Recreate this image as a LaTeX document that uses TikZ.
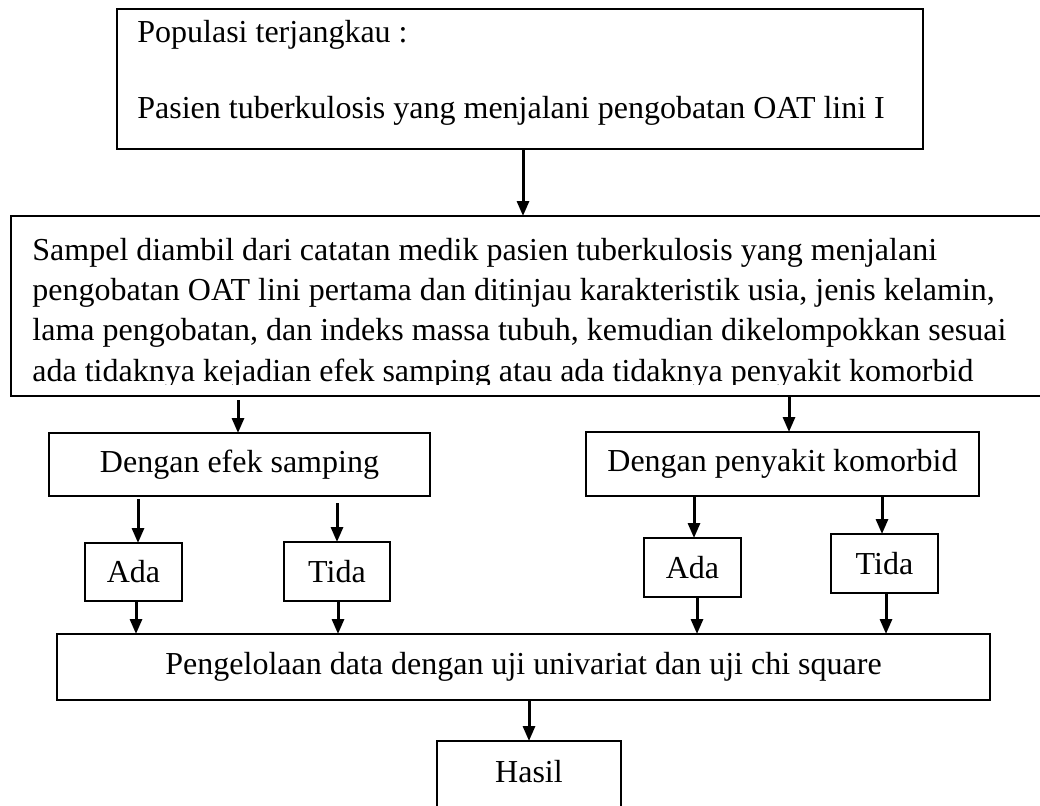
\documentclass[tikz,border=0pt]{standalone}
\usepackage{fontspec}
\setmainfont{Liberation Serif}
\usetikzlibrary{arrows.meta}
\newcommand\myfs{\fontsize{16}{19.75}\selectfont}
\begin{document}
\begin{tikzpicture}[x=0.5pt,y=-0.5pt,
  box/.style={draw, line width=1pt, inner sep=0pt, outer sep=0pt, font=\myfs},
  arr/.style={line width=1.5pt, -{Triangle[length=7.5pt,width=6pt]}},
  txt/.style={inner sep=0pt, anchor=base west, font=\myfs}]
\useasboundingbox (0,0) rectangle (1040,805);
\clip (0,0) rectangle (1040,805);

% top box
\node[box, minimum width=403pt, minimum height=70pt] (top) at (520,79) {};
\node[txt] (t1) at (137,42) {Populasi terjangkau :};
\node[txt] (t2) at (137,118) {Pasien tuberkulosis yang menjalani pengobatan OAT lini I};

% big box
\node[box, minimum width=515.5pt, minimum height=90pt] (big) at (526.5,306) {};
\begin{scope}
\clip (0,216) rectangle (1040,384);
\node[txt] (b1) at (32,260) {Sampel diambil dari catatan medik pasien tuberkulosis yang menjalani};
\node[txt] (b2) at (32,300) {pengobatan OAT lini pertama dan ditinjau karakteristik usia, jenis kelamin,};
\node[txt] (b3) at (32,340.5) {lama pengobatan, dan indeks massa tubuh, kemudian dikelompokkan sesuai};
\node[txt] (b4) at (32,381) {ada tidaknya kejadian efek samping atau ada tidaknya penyakit komorbid};
\end{scope}

% second level
\node[box, minimum width=190.5pt, minimum height=31.5pt] (efek) at (239.5,464.5) {Dengan efek samping};
\node[box, minimum width=196.5pt, minimum height=32pt] (komo) at (782.5,464) {Dengan penyakit komorbid};

% third level
\node[box, minimum width=48.5pt, minimum height=29pt] (ada1) at (133.5,572) {Ada};
\node[box, minimum width=53pt, minimum height=29.5pt] (tida1) at (337,571.5) {Tida};
\node[box, minimum width=48.5pt, minimum height=29.5pt] (ada2) at (692.5,567.5) {Ada};
\node[box, minimum width=53.5pt, minimum height=29.5pt] (tida2) at (884.5,563.5) {Tida};

% processing
\node[box, minimum width=466.5pt, minimum height=33pt] (peng) at (523.5,667) {Pengelolaan data dengan uji univariat dan uji chi square};

% result
\node[box, minimum width=92pt, minimum height=35pt] (hasil) at (529,776) {};
\node[inner sep=0pt, anchor=base, font=\myfs] (ht) at (529,782) {Hasil};

% connector x positions
\coordinate (x1) at (523,0);
\coordinate (x2) at (238,0);
\coordinate (x3) at (789,0);
\coordinate (x4) at (138,0);
\coordinate (x5) at (337,0);
\coordinate (x6) at (694,0);
\coordinate (x7) at (882,0);
\coordinate (x8) at (136,0);
\coordinate (x9) at (338,0);
\coordinate (x10) at (697,0);
\coordinate (x11) at (886,0);
\coordinate (x12) at (529,0);

\draw[arr] (top.south -| x1) -- (big.north -| x1);
\draw[arr, shorten <=2pt] (big.south -| x2) -- (efek.north -| x2);
\draw[arr] (big.south -| x3) -- (komo.north -| x3);
\draw[arr, shorten <=1.5pt] (efek.south -| x4) -- (ada1.north -| x4);
\draw[arr, shorten <=3.5pt] (efek.south -| x5) -- (tida1.north -| x5);
\draw[arr] (komo.south -| x6) -- (ada2.north -| x6);
\draw[arr] (komo.south -| x7) -- (tida2.north -| x7);
\draw[arr] (ada1.south -| x8) -- (peng.north -| x8);
\draw[arr] (tida1.south -| x9) -- (peng.north -| x9);
\draw[arr] (ada2.south -| x10) -- (peng.north -| x10);
\draw[arr] (tida2.south -| x11) -- (peng.north -| x11);
\draw[arr] (peng.south -| x12) -- (hasil.north -| x12);
\end{tikzpicture}
\end{document}
